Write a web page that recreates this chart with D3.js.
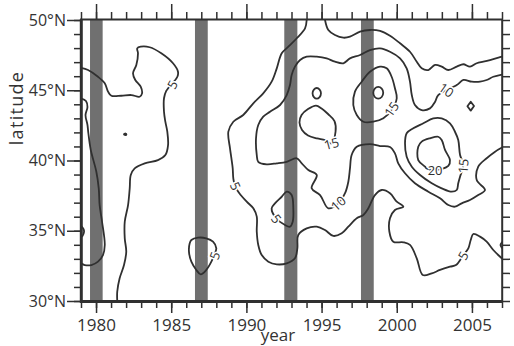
<!DOCTYPE html>
<html><head><meta charset="utf-8">
<script src="https://cdn.jsdelivr.net/npm/d3@7"></script>
<style>
html,body{margin:0;padding:0;background:#fff;}
svg{display:block;font-family:"Open Sans",sans-serif;}
</style></head><body>
<svg id="chart" width="514" height="346"></svg>
<script>
// ---------- data ----------
const xDomain = [1979, 2007];
const yDomain = [30, 50];
const xMajorTicks = [1980, 1985, 1990, 1995, 2000, 2005];
const xMinorTicks = d3.range(1979, 2008);
const yMajorTicks = [30, 35, 40, 45, 50];
const yMinorTicks = d3.range(30, 51);
const xTitle = "year";
const yTitle = "latitude";

// shaded periods [start year, end year]
const bands = [[1979.60, 1980.44], [1986.58, 1987.43], [1992.52, 1993.39], [1997.62, 1998.47]];

// open contour lines [year, latitude]
const contourA = [[1979.00,46.60],[1979.47,46.44],[1980.13,45.96],[1980.58,45.49],[1980.80,44.90],[1981.02,44.61],[1981.68,44.61],[1982.35,44.66],[1982.90,44.54],[1983.06,44.78],[1982.97,45.25],[1982.61,45.73],[1982.46,46.21],[1982.68,46.80],[1982.79,47.63],[1982.74,47.98],[1982.97,48.10],[1983.57,48.06],[1984.34,47.63],[1985.12,46.92],[1985.45,46.32],[1985.41,45.96],[1984.67,44.95],[1984.52,44.43],[1984.52,43.47],[1984.61,42.76],[1984.74,42.05],[1984.79,41.10],[1984.61,40.39],[1984.12,40.03],[1983.24,39.80],[1982.57,39.44],[1982.31,38.97],[1982.24,38.02],[1982.13,36.83],[1981.91,35.64],[1981.91,34.46],[1982.01,33.51],[1981.86,32.56],[1981.57,31.62],[1981.41,30.66],[1981.41,30.00]];
const contourB = [[1979.00,44.43],[1979.33,44.23],[1979.43,43.81],[1979.30,43.24],[1979.43,42.53],[1979.49,41.94],[1979.65,40.75],[1980.02,39.20],[1980.18,38.02],[1980.24,36.83],[1980.40,35.64],[1980.58,33.99],[1980.46,33.27],[1980.13,32.80],[1979.69,32.56],[1979.25,32.56],[1979.00,32.68]];
const contourBump = [[1979.00,35.34],[1979.17,35.12],[1979.20,34.91],[1979.10,34.63],[1979.00,34.55]];
const contourD = [[1994.01,50.00],[1993.90,49.41],[1993.35,48.70],[1992.79,48.10],[1992.35,47.63],[1992.02,46.56],[1991.68,45.61],[1991.12,44.78],[1990.46,44.07],[1989.79,43.24],[1989.13,42.76],[1988.80,42.05],[1988.91,40.87],[1989.02,40.03],[1989.09,39.44],[1989.13,38.73],[1989.24,38.18],[1989.53,37.67],[1990.02,37.07],[1990.46,36.60],[1990.69,36.00],[1990.69,34.93],[1990.79,33.99],[1991.02,33.27],[1991.46,32.80],[1992.02,32.61],[1992.68,32.68],[1993.23,33.04],[1993.39,33.75],[1993.45,34.70],[1994.01,35.17],[1994.68,35.29],[1995.23,35.05],[1995.78,34.63],[1996.34,34.82],[1996.78,35.29],[1997.34,35.89],[1997.78,36.12],[1998.11,36.60],[1998.55,37.54],[1999.00,37.90],[1999.55,37.67],[2000.00,37.07],[2000.44,36.71],[1999.88,36.48],[1999.55,35.89],[1999.51,34.93],[1999.77,34.22],[2000.44,34.18],[2000.88,33.99],[2001.33,33.04],[2001.73,31.85],[2002.33,31.97],[2002.88,32.21],[2003.54,32.44],[2003.94,32.56],[2004.43,33.27],[2004.76,33.75],[2004.92,34.34],[2005.09,34.77],[2005.54,34.58],[2005.98,34.22],[2006.42,33.63],[2006.87,33.15],[2007.00,33.02]];
const contourE = [[1995.23,50.00],[1995.45,49.29],[1995.89,48.93],[1996.45,48.74],[1996.89,48.81],[1997.56,49.17],[1998.22,49.29],[1998.89,49.22],[1999.55,48.88],[2000.22,48.34],[2000.88,47.74],[2001.33,47.03],[2001.66,46.56],[2002.10,46.44],[2002.55,46.80],[2002.99,46.68],[2003.43,46.44],[2003.99,46.68],[2004.43,46.85],[2004.87,46.68],[2005.32,46.92],[2005.76,47.03],[2006.20,47.15],[2006.76,47.32],[2007.00,47.40]];
const contourF = [[2007.00,46.12],[2006.42,45.96],[2005.98,45.73],[2005.54,45.61],[2004.99,45.61],[2004.43,45.73],[2003.99,45.37],[2002.76,44.66],[2002.55,44.18],[2002.21,43.71],[2001.66,43.59],[2001.21,43.95],[2001.00,44.66],[2000.88,45.61],[2000.66,46.56],[2000.22,47.27],[1999.55,47.74],[1998.89,47.98],[1998.22,47.86],[1997.56,47.51],[1996.89,47.27],[1996.45,46.92],[1995.89,47.03],[1995.34,47.27],[1994.68,47.39],[1994.01,47.39],[1993.57,47.15],[1993.23,46.68],[1993.01,46.08],[1992.90,45.37],[1992.68,44.66],[1992.24,43.95],[1991.57,43.47],[1991.12,43.12],[1990.79,42.53],[1990.64,41.58],[1990.69,40.39],[1990.79,39.91],[1991.35,39.73],[1992.02,39.80],[1992.68,39.91],[1993.35,40.16],[1993.68,39.80],[1994.12,39.32],[1994.68,38.97],[1994.34,38.02],[1994.90,37.54],[1995.45,36.60],[1996.11,36.95],[1996.56,37.67],[1996.78,38.49],[1996.89,39.44],[1997.00,40.39],[1997.34,40.98],[1998.22,41.17],[1998.89,41.03],[1999.55,40.96],[1999.88,40.51],[2000.10,39.80],[2000.55,39.09],[2001.21,38.38],[2002.10,37.78],[2002.88,37.31],[2003.43,36.83],[2003.87,36.71],[2004.32,36.95],[2004.87,37.19],[2005.42,37.54],[2005.87,37.90],[2005.32,38.61],[2005.42,39.56],[2005.98,40.16],[2006.54,40.63],[2007.00,40.92]];
const contourEdgeR = [[2007.00,34.18],[2006.90,33.99],[2007.00,33.78]];

// closed contour loops [year, latitude]
const loopC = [[1986.34,34.34],[1986.78,34.51],[1987.33,34.46],[1987.78,34.22],[1988.00,33.75],[1987.85,33.27],[1987.67,32.80],[1987.33,32.21],[1986.96,31.90],[1986.67,32.21],[1986.34,32.80],[1986.18,33.51],[1986.23,34.11]];
const loopG = [[1994.63,43.91],[1994.10,43.66],[1993.67,43.24],[1993.53,42.70],[1993.70,42.17],[1994.10,41.78],[1994.70,41.57],[1995.23,41.46],[1995.66,41.21],[1995.93,42.05],[1995.86,42.81],[1995.43,43.31],[1995.00,43.70]];
const loopH = [[1999.66,43.59],[1999.11,43.00],[1998.44,42.76],[1997.78,42.76],[1997.34,43.24],[1997.11,43.95],[1997.22,44.90],[1997.67,45.61],[1998.22,46.32],[1998.89,46.68],[1999.33,46.56],[1999.66,45.96],[1999.88,45.14],[2000.00,44.43]];
const loopI = [[2004.43,39.68],[2004.21,40.39],[2004.09,41.46],[2003.87,42.05],[2003.54,42.65],[2002.99,43.00],[2002.43,43.00],[2001.77,42.65],[2001.10,42.29],[2000.66,41.94],[2000.55,41.22],[2000.66,40.27],[2001.00,39.56],[2001.55,38.97],[2002.33,38.38],[2002.99,38.02],[2003.66,37.78],[2003.99,37.90],[2004.09,38.38],[2004.21,38.85]];
const loopJ = [[2001.88,39.56],[2001.43,40.03],[2001.43,40.98],[2001.66,41.34],[2002.21,41.58],[2002.76,41.69],[2002.99,41.46],[2003.21,40.75],[2003.54,40.03],[2003.43,39.61],[2002.55,39.32],[2001.99,39.44]];
const loopK = [[1992.68,37.78],[1993.01,37.54],[1993.12,36.60],[1993.08,35.64],[1992.90,35.29],[1992.57,35.41],[1991.97,35.89],[1991.68,36.60],[1991.90,36.95],[1992.35,37.42]];
const loopO1 = [[1994.68,45.16],[1994.87,45.05],[1994.96,44.78],[1994.87,44.51],[1994.68,44.40],[1994.49,44.51],[1994.40,44.78],[1994.49,45.05]];
const loopO2 = [[1998.77,45.24],[1999.00,45.12],[1999.10,44.82],[1999.00,44.52],[1998.77,44.40],[1998.54,44.52],[1998.44,44.82],[1998.54,45.12]];
const loopDiamond = [[2004.92,44.18],[2005.14,43.88],[2004.92,43.55],[2004.70,43.86]];
const loopDot = [[1981.86,41.87],[1981.95,41.92],[1982.02,41.86],[1981.94,41.81]];

// contour labels
const labelText = ["5", "5", "5", "5", "5", "15", "15", "10", "10", "20", "15"];
const labelYear = [1985.07, 1989.28, 1992.00, 1987.88, 2004.41, 1995.66, 1999.64, 2003.30, 1996.11, 2002.55, 2004.41];
const labelLat  = [45.41, 38.18, 35.87, 33.24, 33.24, 41.21, 43.66, 45.02, 36.95, 39.32, 39.61];

// ---------- drawing ----------
const svg = d3.select("#chart");
const x = d3.scaleLinear().domain(xDomain).range([81, 502]);
const y = d3.scaleLinear().domain(yDomain).range([301, 20]);
const ink = "#303030";

const defs = svg.append("defs");
defs.append("clipPath").attr("id", "plotclip").append("rect")
  .attr("x", 81).attr("y", 20).attr("width", 421).attr("height", 281);

// bands
svg.append("g").selectAll("rect").data(bands).join("rect")
  .attr("x", d => x(d[0])).attr("width", d => x(d[1]) - x(d[0]))
  .attr("y", y(50)).attr("height", y(30) - y(50))
  .attr("fill", "#707070");

// contours
const gC = svg.append("g").attr("clip-path", "url(#plotclip)")
  .attr("fill", "none").attr("stroke", ink).attr("stroke-width", 1.8)
  .attr("stroke-linejoin", "round").attr("stroke-linecap", "round");
const openLine = d3.line().x(d => x(d[0])).y(d => y(d[1])).curve(d3.curveCatmullRom.alpha(0.5));
const closedLine = d3.line().x(d => x(d[0])).y(d => y(d[1])).curve(d3.curveCatmullRomClosed.alpha(0.5));
[contourA, contourB, contourBump, contourD, contourE, contourF, contourEdgeR].forEach(c =>
  gC.append("path").attr("d", openLine(c)));
[loopC, loopG, loopH, loopI, loopJ, loopK, loopO1, loopO2, loopDot].forEach(c =>
  gC.append("path").attr("d", closedLine(c)));
gC.append("path").attr("d", d3.line().x(d => x(d[0])).y(d => y(d[1])).curve(d3.curveLinearClosed)(loopDiamond));

// contour labels
const labelAngle = [-60, 65, 52, -70, -60, -15, -55, 35, -42, 0, -85];
svg.append("g").selectAll("text").data(labelText).join("text")
  .attr("transform", (d, i) => `translate(${x(labelYear[i])},${y(labelLat[i])}) rotate(${labelAngle[i]})`)
  .attr("text-anchor", "middle").attr("dominant-baseline", "central")
  .attr("font-size", 13).attr("fill", ink)
  .attr("stroke", "#fff").attr("stroke-width", 3).attr("paint-order", "stroke")
  .text(d => d);

// axes
function styleAxis(g) {
  g.select(".domain").remove();
  g.selectAll(".tick line").attr("stroke", ink).attr("stroke-width", 1.5);
  g.selectAll("text").attr("fill", "#333");
}
svg.append("g").attr("transform", "translate(0,302)")
  .call(d3.axisBottom(x).tickValues(xMinorTicks).tickSize(6).tickFormat("")).call(styleAxis);
svg.append("g").attr("transform", "translate(0,302)")
  .call(d3.axisBottom(x).tickValues(xMajorTicks).tickSize(11).tickPadding(6).tickFormat(d3.format("d")))
  .call(styleAxis)
  .call(g => g.selectAll("text").attr("font-size", 17).attr("font-family", "Open Sans"));
svg.append("g").attr("transform", "translate(0,19)")
  .call(d3.axisTop(x).tickValues(xMinorTicks).tickSize(7).tickFormat("")).call(styleAxis);
svg.append("g").attr("transform", "translate(0,19)")
  .call(d3.axisTop(x).tickValues(xMajorTicks).tickSize(15).tickFormat("")).call(styleAxis);
svg.append("g").attr("transform", "translate(80,0)")
  .call(d3.axisLeft(y).tickValues(yMinorTicks).tickSize(6).tickFormat("")).call(styleAxis);
svg.append("g").attr("transform", "translate(80,0)")
  .call(d3.axisLeft(y).tickValues(yMajorTicks).tickSize(13).tickPadding(1).tickFormat(d => d + "°N"))
  .call(styleAxis)
  .call(g => g.selectAll("text").attr("font-size", 16).attr("font-family", "Open Sans"));
svg.append("g").attr("transform", "translate(503,0)")
  .call(d3.axisRight(y).tickValues(yMinorTicks).tickSize(7).tickFormat("")).call(styleAxis);

// frame
svg.append("line").attr("x1", 80).attr("x2", 503).attr("y1", 19.5).attr("y2", 19.5).attr("stroke", ink).attr("stroke-width", 2);
svg.append("line").attr("x1", 502.2).attr("x2", 502.2).attr("y1", 19).attr("y2", 302).attr("stroke", ink).attr("stroke-width", 2);
svg.append("line").attr("x1", 81.3).attr("x2", 81.3).attr("y1", 19).attr("y2", 303).attr("stroke", ink).attr("stroke-width", 3);
svg.append("line").attr("x1", 80).attr("x2", 503).attr("y1", 301.5).attr("y2", 301.5).attr("stroke", ink).attr("stroke-width", 3);

// titles
svg.append("text").attr("x", 278).attr("y", 341).attr("text-anchor", "middle")
  .attr("font-size", 17).attr("fill", "#333").text(xTitle);
svg.append("text").attr("transform", "translate(23,108) rotate(-90)").attr("text-anchor", "middle")
  .attr("font-size", 18).attr("letter-spacing", 1.3).attr("fill", "#333").text(yTitle);
</script>
</body></html>
